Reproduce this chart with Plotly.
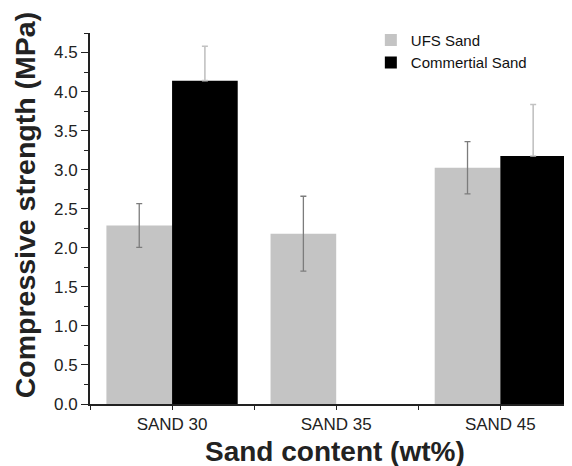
import plotly.graph_objects as go

categories = ["SAND 30", "SAND 35", "SAND 45"]
ufs_values = [2.285, 2.18, 3.025]
ufs_errors = [0.28, 0.48, 0.335]
commercial_values = [4.14, None, 3.175]
commercial_errors = [0.44, 0.0, 0.66]
y_tick_vals = [0.0, 0.5, 1.0, 1.5, 2.0, 2.5, 3.0, 3.5, 4.0, 4.5]
x_title = "Sand content (wt%)"
y_title = "Compressive strength (MPa)"

x_pos = list(range(len(categories)))

fig = go.Figure()
fig.add_trace(go.Bar(
    x=x_pos, y=ufs_values, name="UFS Sand",
    marker=dict(color="#c4c4c4", line=dict(width=0)),
    error_y=dict(type="data", array=ufs_errors, visible=True,
                 color="#7c7c7c", thickness=1.3, width=3),
))
fig.add_trace(go.Bar(
    x=x_pos, y=commercial_values, name="Commertial Sand",
    marker=dict(color="#000000", line=dict(width=0)),
    error_y=dict(type="data", symmetric=False, array=commercial_errors,
                 arrayminus=[0, 0, 0], visible=True,
                 color="#c2c2c2", thickness=1.6, width=3),
))

# page has an 8px body margin; figure is sized so the plot area lands at
# x 90..566, y 33..404 in the window
fig.update_layout(
    width=564, height=458,
    margin=dict(l=82, r=6, t=25, b=62, autoexpand=False),
    paper_bgcolor="white", plot_bgcolor="white",
    barmode="group", bargap=0.2, bargroupgap=0,
    font=dict(family="Liberation Sans, Arial, sans-serif", color="#222"),
    legend=dict(x=0.59, y=1.025, xanchor="left", yanchor="top",
                bgcolor="rgba(0,0,0,0)", font=dict(size=15, color="#111"),
                tracegroupgap=0),
    xaxis=dict(
        range=[-0.5, 2.4], tickmode="array", tickvals=x_pos, ticktext=categories,
        showline=True, linecolor="#222", linewidth=2, mirror=False,
        ticks="outside", ticklen=4, tickwidth=1.2, tickcolor="#222",
        minor=dict(tickmode="linear", tick0=0.5, dtick=1, ticks="outside",
                   ticklen=4, tickwidth=1.2, tickcolor="#222"),
        showgrid=False, zeroline=False, automargin=False,
        tickfont=dict(size=17, color="#222"),
    ),
    yaxis=dict(
        range=[0, 4.75], tickmode="array", tickvals=y_tick_vals,
        ticktext=[f"{v:.1f}" for v in y_tick_vals],
        showline=True, linecolor="#222", linewidth=2,
        ticks="outside", ticklen=7, tickwidth=1.2, tickcolor="#222",
        minor=dict(tickmode="linear", tick0=0.25, dtick=0.5, ticks="outside",
                   ticklen=4, tickwidth=1.2, tickcolor="#222"),
        showgrid=False, zeroline=False, automargin=False,
        tickfont=dict(size=17, color="#222"),
    ),
    annotations=[
        dict(text=f"<b>{x_title}</b>", xref="paper", yref="paper",
             x=0.514, y=-0.128, xanchor="center", yanchor="middle",
             showarrow=False, font=dict(size=28, color="#222")),
        dict(text=f"<b>{y_title}</b>", xref="paper", yref="paper",
             x=-0.137, y=0.535, xanchor="center", yanchor="middle",
             textangle=-90, showarrow=False, font=dict(size=28.5, color="#222")),
    ],
)

fig.write_html("out.html")
